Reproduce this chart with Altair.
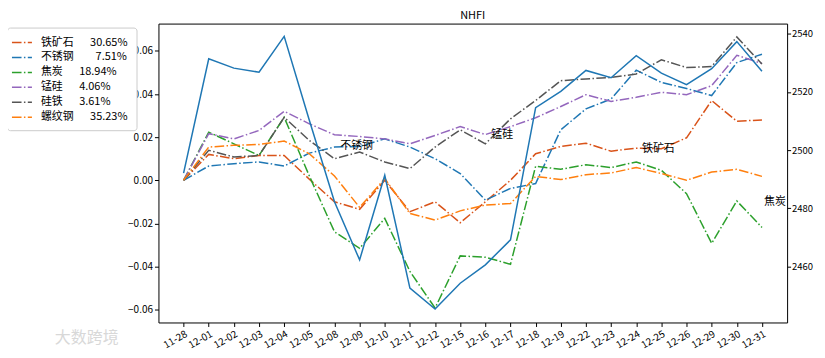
import altair as alt
import pandas as pd

dates = ["11-28", "12-01", "12-02", "12-03", "12-04", "12-05", "12-08", "12-09",
         "12-10", "12-11", "12-12", "12-15", "12-16", "12-17", "12-18", "12-19",
         "12-22", "12-23", "12-24", "12-25", "12-26", "12-29", "12-30", "12-31"]

names = ["铁矿石", "不锈钢", "焦炭", "锰硅", "硅铁", "螺纹钢"]
weights = ["30.65%", "7.51%", "18.94%", "4.06%", "3.61%", "35.23%"]
colors = ["#d95319", "#1f77b4", "#2ca02c", "#9467bd", "#555555", "#ff7f0e"]

iron_ore = [0, 0.012, 0.010, 0.0115, 0.0115, 0.0005, -0.010, -0.0135, 0.0, -0.0146, -0.010, -0.0197,
            -0.010, 0.0, 0.0123, 0.0157, 0.0172, 0.0135, 0.0149, 0.0146, 0.0197, 0.037, 0.0274, 0.028]
stainless = [0, 0.0066, 0.0077, 0.0085, 0.0066, 0.0126, 0.0154, 0.0157, 0.0192, 0.0154, 0.010, 0.0031,
             -0.0092, -0.0038, -0.0015, 0.0234, 0.0331, 0.0377, 0.0511, 0.0454, 0.0426, 0.0393, 0.0546, 0.0585]
coke = [0, 0.0223, 0.0169, 0.0115, 0.0292, 0.002, -0.0239, -0.0316, -0.0177, -0.0423, -0.0593, -0.0351,
        -0.0357, -0.039, 0.0065, 0.0051, 0.0072, 0.0059, 0.0085, 0.0046, -0.0062, -0.0293, -0.0096, -0.0219]
silicomanganese = [0, 0.0216, 0.0192, 0.0231, 0.032, 0.0262, 0.0211, 0.0203, 0.0192, 0.0169, 0.0208, 0.0249,
                   0.0212, 0.0249, 0.029, 0.0342, 0.0397, 0.0366, 0.0385, 0.0408, 0.0397, 0.0439, 0.058, 0.0542]
ferrosilicon = [0, 0.0139, 0.0108, 0.0115, 0.0292, 0.0185, 0.010, 0.0131, 0.0085, 0.0054, 0.0154, 0.0234,
                0.0169, 0.0285, 0.037, 0.0462, 0.047, 0.0477, 0.0493, 0.0559, 0.0523, 0.0528, 0.0665, 0.0539]
rebar = [0, 0.0154, 0.0162, 0.0166, 0.0182, 0.0123, 0.002, -0.0126, 0.0008, -0.0154, -0.0185, -0.0142,
         -0.0115, -0.0108, 0.0018, 0.0003, 0.0026, 0.0034, 0.0059, 0.0031, 0.0, 0.0038, 0.0051, 0.0018]

nhfi = [2492.1, 2531.4, 2528.2, 2526.8, 2539.1, 2510.3, 2482.3, 2462.3, 2491.4, 2452.6, 2445.4, 2454.3,
        2460.6, 2469.2, 2514.6, 2520.2, 2527.4, 2524.9, 2532.5, 2526.5, 2522.5, 2528.0, 2537.3, 2527.1]

# in-plot annotations: name, date, value, horizontal nudge
ann_names = ["不锈钢", "锰硅", "铁矿石", "焦炭"]
ann_dates = ["12-09", "12-16", "12-25", "12-31"]
ann_values = [0.0157, 0.0208, 0.0146, -0.0099]
ann_dx = [-3, 17, -3, 13]

series_vals = [iron_ore, stainless, coke, silicomanganese, ferrosilicon, rebar]
gap = "\u2002\u2002\u2002"
labels = []
for n, w in zip(names, weights):
    pad = "\u2002" if len(w) == 5 and len(n) == 3 else ""
    labels.append(n + gap + pad + w)

rows = []
for lab, vals in zip(labels, series_vals):
    for d, v in zip(dates, vals):
        rows.append({"date": d, "series": lab, "value": v})
df = pd.DataFrame(rows)
df_n = pd.DataFrame({"date": dates, "nhfi": nhfi})

FONT = "Noto Sans CJK SC"
DASH = [9.6, 2.4, 1.5, 2.4]

x_enc = alt.X("date:O", sort=dates,
              scale=alt.Scale(type="point", padding=1.12),
              axis=alt.Axis(title=None, labelAngle=-30, labelAlign="right",
                            labelBaseline="top", labelPadding=2))

left_scale = alt.Scale(domain=[-0.066, 0.0727], nice=False, zero=False)

lines = alt.Chart(df).mark_line(strokeWidth=1.5, strokeDash=DASH).encode(
    x=x_enc,
    y=alt.Y("value:Q", scale=left_scale,
            axis=alt.Axis(title=None, values=[-0.06, -0.04, -0.02, 0.0, 0.02, 0.04, 0.06],
                          format=".2f")),
    color=alt.Color("series:N", sort=labels,
                    scale=alt.Scale(domain=labels, range=colors),
                    legend=alt.Legend(title=None, orient="none", legendX=-152, legendY=4,
                                      symbolType="M-1.67,0H1.67", symbolSize=144,
                                      symbolStrokeWidth=1.5, symbolDash=DASH,
                                      labelOffset=12, rowPadding=3, padding=8,
                                      strokeColor="#cccccc", fillColor="white",
                                      cornerRadius=3, labelFont=FONT, labelFontSize=11,
                                      labelColor="black")),
)

texts = []
for n, d, v, dx in zip(ann_names, ann_dates, ann_values, ann_dx):
    tdf = pd.DataFrame({"date": [d], "value": [v], "name": [n]})
    texts.append(alt.Chart(tdf).mark_text(font=FONT, fontSize=11, color="black", dx=dx).encode(
        x=alt.X("date:O", sort=dates), y=alt.Y("value:Q", scale=left_scale), text="name:N"))

left = alt.layer(lines, *texts)

right = alt.Chart(df_n).mark_line(color="#1f77b4", strokeWidth=1.5).encode(
    x=alt.X("date:O", sort=dates),
    y=alt.Y("nhfi:Q", scale=alt.Scale(domain=[2440.8, 2543.5], nice=False, zero=False),
            axis=alt.Axis(title=None, orient="right", values=[2460, 2480, 2500, 2520, 2540],
                          format="d", labelPadding=1, tickSize=3.5, labelFontSize=9.5)),
)

wm = alt.Chart(pd.DataFrame({"t": ["大数跨境"]})).mark_text(
    font=FONT, fontSize=16, color="#d8d8d8", align="left").encode(
    x=alt.value(-104), y=alt.value(316), text="t:N")

chart = alt.layer(left, right, wm).resolve_scale(y="independent").properties(
    width=631, height=300,
    title=alt.TitleParams("NHFI", font=FONT, fontSize=11, fontWeight="normal",
                          anchor="middle", offset=3, color="black"),
    autosize=alt.AutoSizeParams(type="none"),
    padding={"left": 151, "top": 15, "right": 30, "bottom": 34},
).configure_view(stroke="black", strokeWidth=1).configure_axis(
    grid=False, domain=False, tickColor="black", tickSize=4, labelColor="black",
    labelFont=FONT, labelFontSize=10,
)

chart.save("out.html", embed_options={"renderer": "svg", "actions": False})
